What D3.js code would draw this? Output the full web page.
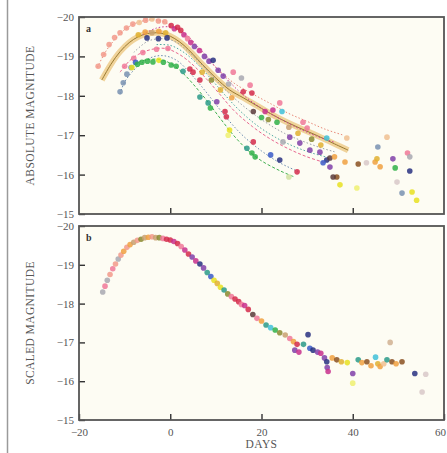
<!DOCTYPE html>
<html>
<head>
<meta charset="utf-8">
<script src="https://cdn.jsdelivr.net/npm/d3@7"></script>
<style>
  html, body { margin: 0; padding: 0; background: #ffffff; }
  svg { display: block; }
  .tick text { font-family: "Liberation Serif", "DejaVu Serif", serif; font-size: 11px; fill: #555; }
  .tick line { stroke: #333; stroke-width: 1.4; }
  .domain { display: none; }
</style>
</head>
<body>
<div id="chart"></div>
<script>
// ---- data ----
const magTicks = [-20, -19, -18, -17, -16, -15];
const dayTicks = [-20, 0, 20, 40, 60];
const innerDayTicks = [0, 20, 40];

// fitted template curves in panel a: [day, magnitude]
const curveSalmon = [[-16,-18.72],[-14,-19.15],[-12,-19.45],[-10,-19.68],[-8,-19.82],[-6,-19.9],[-4,-19.93],[-2,-19.9],[0,-19.8],[2,-19.65],[4,-19.45],[6,-19.2],[8,-18.95],[11,-18.62],[14,-18.32],[18,-18.05],[22,-17.8],[26,-17.55],[30,-17.35],[34,-17.15],[38,-17.0]];
const curveOrange = [[-15,-18.4],[-13,-18.8],[-11,-19.12],[-9,-19.35],[-7,-19.5],[-5,-19.58],[-3,-19.6],[-1,-19.56],[1,-19.45],[3,-19.28],[5,-19.05],[7,-18.8],[10,-18.45],[13,-18.15],[16,-17.95],[20,-17.68],[24,-17.42],[28,-17.2],[32,-17.0],[36,-16.78],[39,-16.62]];
const curveMagenta = [[-6,-19.55],[-3,-19.72],[0,-19.75],[2,-19.68],[4,-19.5],[6,-19.25],[8,-19.0],[10,-18.72],[13,-18.35],[16,-18.02],[20,-17.68],[24,-17.42],[28,-17.18],[32,-16.98],[36,-16.82]];
const curveGray = [[-8,-19.1],[-5,-19.38],[-2,-19.45],[1,-19.38],[4,-19.12],[7,-18.78],[10,-18.4],[13,-18.05],[17,-17.65],[21,-17.32],[25,-17.05],[29,-16.85],[33,-16.68],[36,-16.58]];
const curvePink = [[-11,-18.6],[-9,-18.88],[-7,-19.05],[-4,-19.18],[-1,-19.2],[2,-19.05],[5,-18.78],[8,-18.42],[11,-18.02],[14,-17.62],[18,-17.22],[22,-16.9],[26,-16.65],[30,-16.45],[34,-16.3]];
const curveSteel = [[-11,-18.05],[-10,-18.35],[-8,-18.65],[-6,-18.85],[-4,-18.98],[-2,-19.02],[0,-18.98],[2,-18.85],[4,-18.62],[7,-18.22],[10,-17.78],[13,-17.35],[16,-16.98],[20,-16.6],[24,-16.3],[28,-16.08]];
const curveGreen = [[-9,-18.72],[-7,-18.85],[-5,-18.92],[-3,-18.93],[-1,-18.88],[1,-18.75],[3,-18.55],[5,-18.3],[8,-17.88],[11,-17.42],[14,-16.98],[17,-16.62],[20,-16.35],[24,-16.1],[27,-15.95]];
const curveTeal = [[-3,-19.3],[0,-19.28],[3,-19.1],[6,-18.8],[9,-18.42],[12,-18.02],[15,-17.65],[19,-17.25],[23,-16.95],[27,-16.72],[31,-16.55],[35,-16.42]];

// observed points in panel a: [day, magnitude, colour key]
const pointsA = [
  [-15.8,-18.75,"salmon"],[-14.6,-19.05,"salmon"],[-13.4,-19.3,"salmon"],[-12.2,-19.48,"salmon"],[-11,-19.6,"salmon"],[-9.6,-19.72,"salmon"],
  [-8.2,-19.82,"salmon"],[-6.8,-19.86,"peach"],[-5.4,-19.92,"salmon"],[-4,-19.95,"peach"],[-2.6,-19.9,"salmon"],[-1.2,-19.88,"salmon"],
  [-7,-19.55,"gold"],[-5.5,-19.62,"orange"],[-4,-19.6,"tan"],[-2.5,-19.64,"orange"],[-1,-19.6,"gold"],
  [0.2,-19.78,"red"],[0.9,-19.7,"magenta"],[1.6,-19.74,"red"],[2.3,-19.66,"red"],[3,-19.55,"magenta"],[3.8,-19.45,"pink"],[4.5,-19.35,"magenta"],
  [5.3,-19.25,"purple"],[6.4,-19.15,"magenta"],[7.5,-19.0,"purple"],[8.5,-18.88,"purple"],[9.4,-18.9,"navy"],[10.5,-18.65,"purple"],[11.6,-18.5,"purple"],[12.8,-18.3,"gray"],
  [-5.1,-19.47,"navy"],[-2.6,-19.45,"navy"],[-0.7,-19.47,"navy"],
  [-10,-18.75,"pink"],[-8,-18.95,"pink"],[-6,-19.1,"pink"],[-3,-19.18,"pink"],[-0.5,-19.2,"pink"],
  [-11,-18.1,"steel"],[-10.3,-18.33,"steel"],[-9.5,-18.55,"steel"],[-8.6,-18.72,"steel"],[-7.6,-18.85,"blue"],
  [-8.4,-18.72,"yellow"],[-7.2,-18.8,"green"],[-6.2,-18.85,"green"],[-5,-18.88,"green"],[-3.8,-18.86,"green"],[-2.5,-18.9,"yellow"],
  [-1.5,-18.85,"green"],[0.2,-18.78,"green"],[1.3,-18.75,"green"],[2.8,-18.62,"teal"],
  [4.3,-18.68,"red"],[5,-18.6,"red"],[6.5,-18.4,"red"],
  [6.5,-17.97,"teal"],[8.3,-17.82,"teal"],[8.8,-17.69,"green"],[10.2,-17.85,"purple"],[12,-17.6,"red"],[12.3,-17.47,"red"],[13,-17.13,"yellow"],[12.7,-17.0,"paleyellow"],
  [7,-18.6,"gold"],[9,-18.4,"olive"],[11,-18.15,"gold"],[13.5,-17.95,"orange"],
  [13.8,-18.6,"pink"],[15.6,-18.45,"gray"],[17.5,-18.27,"pink"],[17.9,-18.07,"red"],[16,-18.1,"red"],
  [18.2,-17.6,"dark"],[20.8,-17.6,"magenta"],[22.5,-17.64,"magenta"],[24.5,-17.6,"cyan"],[24,-17.82,"pink"],[23.4,-17.33,"green"],[20,-17.45,"green"],[21.5,-17.4,"olive"],
  [26.2,-16.95,"purple"],[24.7,-16.83,"gray"],[18.2,-16.83,"red"],[16.8,-16.67,"teal"],[17.9,-16.55,"green"],[18.6,-16.45,"green"],[24,-16.37,"navy"],[22,-16.5,"blue"],
  [27.8,-16.07,"red"],[26,-15.94,"palegreen"],
  [29.1,-17.33,"pink"],[30,-17.18,"pink"],[28.4,-16.8,"purple"],[30.6,-16.62,"purple"],[32.8,-16.57,"purple"],[34.3,-16.37,"navy"],[33.5,-16.3,"blue"],[34.3,-16.93,"cyan"],
  [35,-16.19,"purple"],[36.5,-15.94,"brown"],[37.2,-15.74,"yellow"],[35.7,-15.94,"dark"],[35,-16.42,"dark"],[38.7,-16.93,"peach"],[38.3,-16.32,"orange"],[36,-16.45,"orange"],
  [33,-16.75,"gold"],[31,-16.9,"olive"],[28,-17.05,"gold"],[26,-17.2,"tan"],
  [40.9,-15.66,"paleyellow"],[41.2,-16.27,"brown"],[43,-16.3,"pale"],[44.9,-16.32,"orange"],[45.5,-16.7,"steel"],[46,-16.2,"orange"],[45.3,-16.4,"gold"],[47.5,-16.95,"peach"],
  [48.8,-16.4,"purple"],[49.3,-16.17,"green"],[52.5,-16.09,"navy"],[52,-16.55,"pink"],[52.5,-16.45,"gray"],[49.7,-15.81,"pale"],[50.8,-15.53,"steel"],[53,-15.56,"yellow"],[54,-15.35,"yellow"]
];

// stretch-corrected points in panel b: [day, magnitude, colour key]
const pointsB = [
  [-14.8,-18.3,"gray"],[-14.3,-18.45,"pink"],[-13.8,-18.6,"gray"],[-13.2,-18.75,"salmon"],[-12.6,-18.9,"pink"],[-12,-19.02,"salmon"],[-11.4,-19.15,"gray"],
  [-10.8,-19.25,"salmon"],[-10.2,-19.35,"orange"],[-9.5,-19.45,"salmon"],[-8.8,-19.52,"orange"],[-8,-19.58,"tan"],[-7.2,-19.63,"salmon"],[-6.4,-19.66,"olive"],
  [-5.6,-19.7,"tan"],[-4.8,-19.71,"orange"],[-4,-19.72,"salmon"],[-3.2,-19.7,"tan"],[-2.4,-19.7,"olive"],[-1.6,-19.68,"pink"],[-0.8,-19.66,"red"],
  [0,-19.64,"red"],[0.8,-19.6,"magenta"],[1.6,-19.55,"red"],[2.4,-19.47,"pink"],[3.2,-19.38,"magenta"],[4,-19.28,"red"],[4.8,-19.2,"purple"],
  [5.6,-19.1,"magenta"],[6.5,-19.02,"navy"],[7.3,-18.92,"purple"],[8.1,-18.8,"teal"],[8.9,-18.7,"blue"],[9.6,-18.6,"yellow"],[10.3,-18.52,"gold"],
  [11,-18.42,"yellow"],[11.8,-18.35,"teal"],[12.6,-18.25,"olive"],[13.4,-18.18,"pink"],[14.2,-18.12,"red"],[15,-18.05,"red"],[15.6,-17.98,"pink"],
  [16.3,-17.95,"magenta"],[17.1,-17.85,"red"],[18.1,-17.72,"dark"],[19,-17.62,"pink"],[20,-17.55,"orange"],[21,-17.45,"teal"],[22,-17.38,"cyan"],
  [23,-17.32,"green"],[24,-17.25,"olive"],[25.2,-17.19,"tan"],[26.2,-17.1,"pink"],[27,-17.02,"orange"],[27.8,-16.95,"red"],[27.3,-16.8,"purple"],
  [28.2,-16.75,"magenta"],[29.2,-16.95,"teal"],[30.2,-17.2,"navy"],[30.6,-16.85,"blue"],[31.3,-16.8,"navy"],[32.3,-16.75,"purple"],[33,-16.72,"magenta"],
  [33.8,-16.6,"purple"],[34.4,-16.35,"purple"],[34.3,-16.5,"navy"],[34.6,-16.25,"magenta"],[35.5,-16.6,"orange"],[36.5,-16.55,"brown"],[37.5,-16.5,"gold"],
  [38.8,-16.48,"yellow"],[40,-16.2,"purple"],[40,-15.95,"paleyellow"],[41.2,-16.55,"teal"],[42,-16.48,"orange"],[43.1,-16.5,"brown"],[44,-16.4,"orange"],
  [45,-16.62,"cyan"],[45.5,-16.45,"gold"],[46,-16.38,"orange"],[46.8,-16.45,"peach"],[47.5,-16.55,"teal"],[48.2,-17.0,"palebrown"],[48.6,-16.5,"brown"],
  [49.5,-16.45,"orange"],[50.8,-16.5,"brown"],[53.6,-16.2,"navy"],[55.2,-15.72,"pale"],[56,-16.18,"pale"]
];

const colours = {
  salmon: "#f2998a", orange: "#f0a040", gold: "#e0b030", tan: "#c8a070", red: "#d42a4a", magenta: "#c8308c",
  pink: "#f07898", purple: "#8040a8", navy: "#283080", blue: "#3a5ac8", steel: "#7890b0", green: "#30b048",
  teal: "#2a9a88", cyan: "#40c0d8", yellow: "#e8e020", paleyellow: "#eef070", olive: "#8a8a30", gray: "#a8a8b0",
  dark: "#5a3a3a", brown: "#8a5020", peach: "#f0c090", pale: "#d8c8c8", palegreen: "#d0e0a0", palebrown: "#d0b090"
};

// ---- drawing ----
const width = 447, height = 453;
const svg = d3.select("#chart").append("svg")
  .attr("width", width)
  .attr("height", height);

// scanned-page edge on the left
svg.append("line")
  .attr("x1", 7.5).attr("x2", 7.5).attr("y1", 0).attr("y2", height)
  .attr("stroke", "#9a9a9a").attr("stroke-width", 1.5);

const x = d3.scaleLinear().domain([-20, 60]).range([79, 444]);
const yA = d3.scaleLinear().domain([-20, -15]).range([17, 214]);
const yB = d3.scaleLinear().domain([-20, -15]).range([226, 420]);

const minus = d => d < 0 ? "\u2212" + Math.abs(d) : String(d);

function panel(y, label, title) {
  const g = svg.append("g");
  g.append("rect")
    .attr("x", x.range()[0]).attr("y", y.range()[0])
    .attr("width", x.range()[1] - x.range()[0])
    .attr("height", y.range()[1] - y.range()[0])
    .attr("fill", "#fdfcf3");

  g.append("g")
    .attr("transform", `translate(${x.range()[0]},0)`)
    .call(d3.axisLeft(y).tickValues(magTicks).tickSize(-6).tickPadding(5).tickFormat(minus));

  g.append("text")
    .attr("transform", `translate(34,${(y.range()[0] + y.range()[1]) / 2}) rotate(-90)`)
    .attr("text-anchor", "middle")
    .style("font-family", "Liberation Serif, DejaVu Serif, serif")
    .style("font-size", "11.5px")
    .style("letter-spacing", "0.4px")
    .style("fill", "#555")
    .text(title);

  g.append("text")
    .attr("x", 86).attr("y", y.range()[0] + 15)
    .style("font-family", "Liberation Serif, DejaVu Serif, serif")
    .style("font-size", "10px")
    .style("font-weight", "bold")
    .style("fill", "#333")
    .text(label);
  return g;
}

const gA = panel(yA, "a", "ABSOLUTE MAGNITUDE");
const gB = panel(yB, "b", "SCALED MAGNITUDE");

// template curves, panel a
const lineA = d3.line().x(d => x(d[0])).y(d => yA(d[1])).curve(d3.curveCatmullRom);

gA.append("path").datum(curveOrange)
  .attr("d", lineA).attr("fill", "none")
  .attr("stroke", "#e6b050").attr("stroke-width", 6).attr("stroke-opacity", 0.55);
gA.append("path").datum(curveOrange)
  .attr("d", lineA).attr("fill", "none")
  .attr("stroke", "#9a7a30").attr("stroke-width", 1);

const curveStyles = [
  [curveSalmon, "#e88878", "1.5,2"],
  [curveMagenta, "#c84098", "1.5,2"],
  [curveGray, "#9aa0a8", "1.5,2"],
  [curvePink, "#e86890", "3,2"],
  [curveSteel, "#6c8cb0", "1.5,2"],
  [curveGreen, "#40b050", "3,2"],
  [curveTeal, "#50a8a0", "1.5,2"]
];
curveStyles.forEach(([pts, col, dash]) => {
  gA.append("path").datum(pts)
    .attr("d", lineA).attr("fill", "none")
    .attr("stroke", col).attr("stroke-width", 1)
    .attr("stroke-dasharray", dash);
});

gA.selectAll("circle.pt").data(pointsA).enter().append("circle")
  .attr("class", "pt")
  .attr("cx", d => x(d[0])).attr("cy", d => yA(d[1]))
  .attr("r", 2.8)
  .attr("fill", d => colours[d[2]])
  .attr("fill-opacity", 0.85);

gB.selectAll("circle.pt").data(pointsB).enter().append("circle")
  .attr("class", "pt")
  .attr("cx", d => x(d[0])).attr("cy", d => yB(d[1]))
  .attr("r", 2.8)
  .attr("fill", d => colours[d[2]])
  .attr("fill-opacity", 0.85);

// bottom axes
gA.append("g")
  .attr("transform", `translate(0,${yA.range()[1]})`)
  .call(d3.axisBottom(x).tickValues(innerDayTicks).tickSize(-6).tickFormat(""));

gB.append("g")
  .attr("transform", `translate(0,${yB.range()[1]})`)
  .call(d3.axisBottom(x).tickValues(dayTicks).tickSize(-6).tickPadding(6).tickFormat(minus))
  .selectAll(".tick text")
  .attr("dy", "0.9em")
  .attr("dx", d => d === 60 ? -4 : 0);

svg.append("text")
  .attr("x", (x.range()[0] + x.range()[1]) / 2).attr("y", 448)
  .attr("text-anchor", "middle")
  .style("font-family", "Liberation Serif, DejaVu Serif, serif")
  .style("font-size", "11.5px")
  .style("letter-spacing", "0.4px")
  .style("fill", "#555")
  .text("DAYS");

// frames on top
[yA, yB].forEach(y => {
  svg.append("rect")
    .attr("x", x.range()[0]).attr("y", y.range()[0])
    .attr("width", x.range()[1] - x.range()[0])
    .attr("height", y.range()[1] - y.range()[0])
    .attr("fill", "none")
    .attr("stroke", "#555").attr("stroke-width", 1.8);
});
</script>
</body>
</html>
